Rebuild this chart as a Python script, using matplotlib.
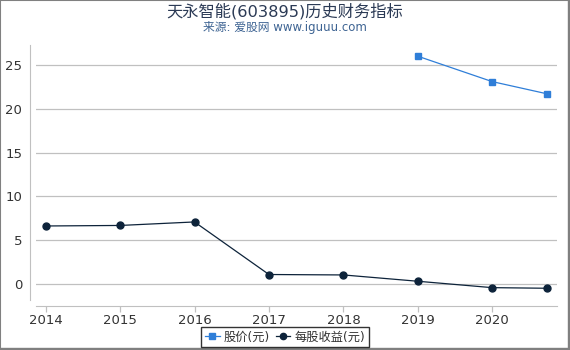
import matplotlib
matplotlib.use("Agg")
import matplotlib.pyplot as plt
from matplotlib.patches import Rectangle

plt.rcParams["font.family"] = ["DejaVu Sans", "Noto Sans CJK SC"]

# data
years = [2014, 2015, 2016, 2017, 2018, 2019, 2020, 2020.74]
eps = [6.62, 6.68, 7.08, 1.08, 1.03, 0.31, -0.42, -0.49]
price_years = [2019, 2020, 2020.74]
price = [26.0, 23.1, 21.7]
xticks = [2014, 2015, 2016, 2017, 2018, 2019, 2020]
yticks = [0, 5, 10, 15, 20, 25]

BLUE = "#2f7ed8"
NAVY = "#0d233a"
TEXT = "#333333"
GRID = "#c0c0c0"

fig = plt.figure(figsize=(5.7, 3.5), dpi=100, facecolor="white")
ax = fig.add_axes([36 / 570, 50 / 350, 521 / 570, 255 / 350])

ax.plot(price_years, price, color=BLUE, lw=0.9, marker="s", ms=5,
        label="股价(元)", zorder=3)
ax.plot(years, eps, color=NAVY, lw=0.9, marker="o", ms=5,
        label="每股收益(元)", zorder=3)

ax.set_xlim(2013.87, 2020.87)
ax.set_ylim(-1.83, 27.28)
ax.set_xticks(xticks)
ax.set_yticks(yticks)
ax.set_xticklabels([str(x) for x in xticks])
ax.grid(axis="y", color=GRID, lw=0.9)
ax.set_axisbelow(True)

for side in ("top", "right"):
    ax.spines[side].set_visible(False)
for side in ("left", "bottom"):
    ax.spines[side].set_color(GRID)
    ax.spines[side].set_position(("outward", 4))
ax.tick_params(axis="x", colors=GRID, labelcolor=TEXT, labelsize=9.5,
               length=4, width=0.9, pad=2)
ax.tick_params(axis="y", length=0, labelcolor=TEXT, labelsize=9.5, pad=6)

fig.text(0.5, 1 - 11.5 / 350, "天永智能(603895)历史财务指标", ha="center",
         va="center", fontsize=11.7, color="#2b3a55")
fig.text(0.5, 1 - 28 / 350, "来源: 爱股网 www.iguuu.com", ha="center",
         va="center", fontsize=8.5, color="#3e6493")

leg = fig.legend(loc="center", bbox_to_anchor=(0.5, 13 / 350), ncol=2,
                 fontsize=8.8, frameon=True, fancybox=False,
                 handlelength=1.2, handletextpad=0.3, columnspacing=0.5,
                 borderpad=0.3, markerscale=0.9)
leg.get_frame().set_edgecolor("black")
leg.get_frame().set_linewidth(1)
for t in leg.get_texts():
    t.set_color(TEXT)

# grey frame around the image
fig.patches.append(Rectangle((0, 0), 1, 1, transform=fig.transFigure,
                             fill=False, edgecolor="#808080", lw=1.5))
fig.patches.append(Rectangle((1 - 2 / 570, 0), 2 / 570, 1,
                             transform=fig.transFigure, color="#808080"))
fig.patches.append(Rectangle((0, 0), 1, 2 / 350,
                             transform=fig.transFigure, color="#808080"))

fig.savefig("out.png", dpi=100)
